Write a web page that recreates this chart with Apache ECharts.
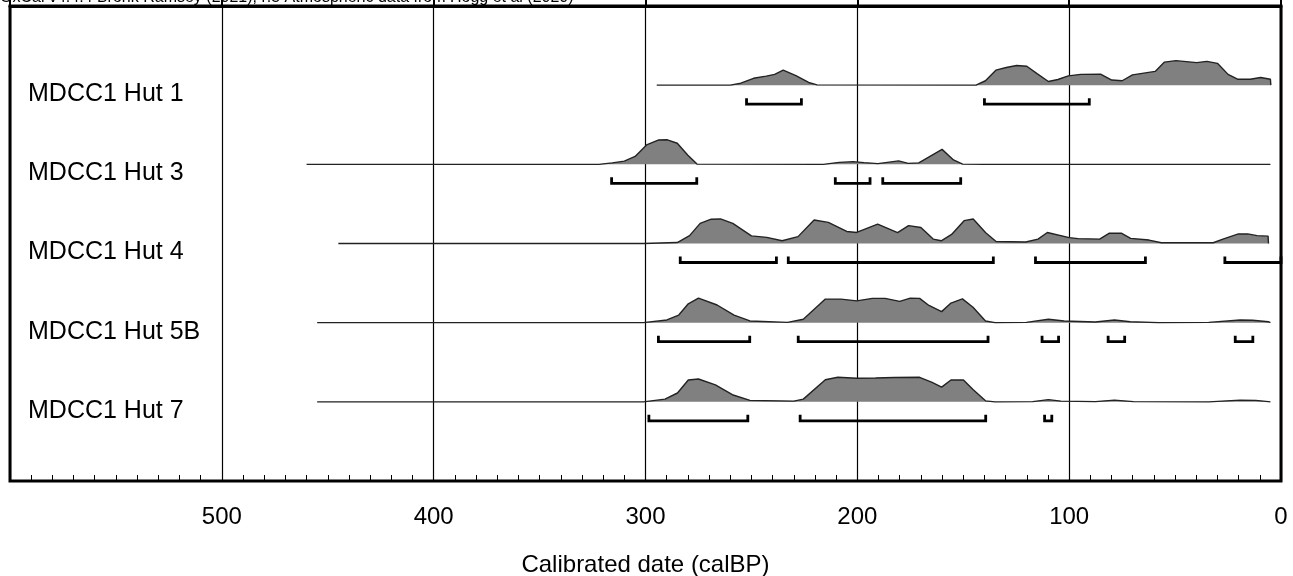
<!DOCTYPE html>
<html>
<head>
<meta charset="utf-8">
<script src="https://cdn.jsdelivr.net/npm/echarts@6/dist/echarts.min.js"></script>
<style>html,body{margin:0;padding:0;background:#fff;}#c{width:1293px;height:576px;}</style>
</head>
<body>
<div id="c"></div>
<script>
// Row labels (top to bottom)
const sampleNames = ['MDCC1 Hut 1', 'MDCC1 Hut 3', 'MDCC1 Hut 4', 'MDCC1 Hut 5B', 'MDCC1 Hut 7'];

// Probability distributions: [calBP, relative density]
const hut1 = [[294.7,0],[260,0],[255,0.08],[249,0.28],[243,0.37],[239,0.44],[235,0.61],[229,0.39],[223,0.11],[219,0.01],[144,0],[139.5,0.18],[134.6,0.61],[129.7,0.72],[124.8,0.80],[120,0.77],[115,0.46],[109.8,0.15],[105.3,0.23],[100.4,0.38],[94.5,0.44],[85.2,0.45],[79.9,0.21],[75,0.18],[70.1,0.42],[59.4,0.56],[55,0.94],[49.6,1.0],[39.8,0.92],[35,0.97],[30,0.89],[25,0.44],[20.3,0.24],[14.5,0.24],[9.6,0.31],[5,0.24],[4.8,0]];
const hut3 = [[460,0],[322,0],[315.7,0.06],[310,0.13],[304.9,0.32],[299.5,0.79],[294,0.99],[289.7,1.0],[285,0.86],[280,0.37],[275.7,0.01],[216,0],[208.6,0.08],[202,0.11],[196.8,0.07],[190.3,0.03],[180.5,0.14],[176,0.04],[171,0.06],[160,0.61],[154.6,0.18],[150.3,0.01],[140,0],[5,0]];
const hut4 = [[445,0],[301,0],[285,0.04],[279.2,0.32],[274.2,0.82],[269,0.99],[264.6,1.0],[258.8,0.82],[250,0.31],[242.8,0.25],[235.5,0.11],[228,0.28],[220.4,0.96],[213.7,0.86],[205,0.49],[200.3,0.45],[190.4,0.79],[181,0.44],[175.8,0.73],[170,0.65],[164.2,0.18],[160.4,0.11],[155.5,0.37],[149.6,0.93],[145.3,1.0],[139.4,0.44],[134.5,0.08],[120.5,0.06],[114.7,0.18],[110.3,0.45],[100,0.24],[95.8,0.2],[85.6,0.18],[81,0.42],[75.4,0.42],[71,0.21],[62.3,0.14],[56.5,0.03],[32,0.03],[27.4,0.18],[20.1,0.39],[15.7,0.39],[11.3,0.32],[6.1,0.3],[5.9,0]];
const hut5B = [[455,0],[301,0],[289.9,0.11],[284.3,0.31],[279.8,0.77],[275,1.0],[266.2,0.72],[258.2,0.31],[250.7,0.07],[232.9,0.01],[225.5,0.14],[215.1,0.96],[207.7,0.96],[200.3,0.89],[192.9,0.99],[186.9,0.99],[180,0.87],[175,1.0],[170.6,0.99],[166.2,0.7],[160.2,0.45],[155.8,0.8],[150.4,0.97],[145.4,0.63],[139.5,0.07],[135,0],[120.2,0.01],[109.8,0.14],[102.4,0.07],[87.6,0.03],[78.6,0.11],[71.2,0.04],[57.9,0],[34.1,0.01],[19.3,0.11],[13.4,0.1],[6,0.04],[5,0]];
const hut7 = [[455,0],[301,0],[290.8,0.11],[284.9,0.36],[279.8,0.89],[275,0.93],[267,0.69],[259,0.29],[250.7,0.06],[230,0.03],[225.5,0.11],[215.1,0.9],[209.2,1.0],[200.3,0.96],[191.4,0.97],[182.5,0.99],[170.6,1.0],[164.7,0.79],[160.2,0.6],[155.8,0.89],[149.9,0.89],[145.4,0.5],[139.5,0.04],[135,0],[117.2,0.01],[109.8,0.09],[103.9,0.03],[87.6,0.01],[78.6,0.07],[69.7,0.01],[34.1,0],[19.3,0.07],[11.9,0.06],[6,0.01],[5,0]];

// Highest probability density ranges: [from calBP, to calBP]
const hut1Ranges = [[252.3,226.4],[140,90.5]];
const hut3Ranges = [[316,275.8],[210.4,194],[188,151.2]];
const hut4Ranges = [[283.6,238.2],[232.6,135.8],[115.9,64],[26.5,0]];
const hut5BRanges = [[293.9,250.8],[227.9,138.3],[112.8,105],[81.6,73.8],[21.6,13.3]];
const hut7Ranges = [[298.4,251.7],[227,139.4],[111.6,108.2]];

// Axis ticks
const xTickLabels = [600, 500, 400, 300, 200, 100, 0];

const distributions = [hut1, hut3, hut4, hut5B, hut7];
const rangeSets = [hut1Ranges, hut3Ranges, hut4Ranges, hut5BRanges, hut7Ranges];

const PEAK = 0.31;      // height of a distribution peak in row units
const RANGE_OFF = 0.24; // offset of range bars below the baseline
const FONT = '"Liberation Sans", Arial, sans-serif';

const series = [];
distributions.forEach((dist, i) => {
  const base = i + 1;
  series.push({
    type: 'line',
    name: sampleNames[i],
    data: dist.map(p => [p[0], base - p[1] * PEAK]),
    symbol: 'none',
    smooth: false,
    silent: true,
    lineStyle: { color: '#222', width: 1.4 },
    areaStyle: { color: '#808080', opacity: 1, origin: base },
    z: 3
  });
});

const rangeData = [];
rangeSets.forEach((set, i) => set.forEach(r => rangeData.push([i + 1, r[0], r[1]])));

series.push({
  type: 'custom',
  silent: true,
  data: rangeData,
  encode: { x: [1, 2], y: 0 },
  renderItem: function (params, api) {
    const row = api.value(0);
    const p1 = api.coord([api.value(1), row + RANGE_OFF]);
    const p2 = api.coord([api.value(2), row + RANGE_OFF]);
    const t = 6;
    return {
      type: 'polyline',
      shape: { points: [[p1[0], p1[1] - t], [p1[0], p1[1]], [p2[0], p2[1]], [p2[0], p2[1] - t]] },
      style: { stroke: '#000', lineWidth: 2.8, fill: null, lineJoin: 'miter' }
    };
  },
  z: 4
});

// Row labels
series.push({
  type: 'custom',
  silent: true,
  data: sampleNames.map((n, i) => [600, i + 1]),
  renderItem: function (params, api) {
    const p = api.coord([api.value(0), api.value(1)]);
    return {
      type: 'text',
      x: p[0] + 18,
      y: p[1] + 9,
      style: {
        text: sampleNames[params.dataIndex],
        font: '25px ' + FONT,
        fill: '#000',
        verticalAlign: 'middle',
        align: 'left'
      }
    };
  },
  z: 5
});

const chart = echarts.init(document.getElementById('c'), null, { renderer: 'canvas' });
chart.setOption({
  animation: false,
  backgroundColor: '#fff',
  textStyle: { fontFamily: FONT },
  graphic: [{
    type: 'text',
    left: 0,
    top: -10,
    style: {
      text: 'OxCal v4.4.4 Bronk Ramsey (2021); r:5 Atmospheric data from Hogg et al (2020)',
      font: '16px ' + FONT,
      fill: '#000'
    }
  }],
  grid: {
    left: 10, right: 12, top: 6, bottom: 95,
    outerBoundsMode: 'none',
    containLabel: false,
    show: true, borderColor: '#000', borderWidth: 3, backgroundColor: 'transparent'
  },
  xAxis: [{
    type: 'value',
    min: 0, max: 600, interval: 100,
    inverse: true,
    name: 'Calibrated date (calBP)',
    nameLocation: 'middle',
    nameGap: 72,
    nameTextStyle: { fontSize: 24, color: '#000', fontFamily: FONT },
    axisLine: { lineStyle: { color: '#000', width: 3 } },
    axisTick: { inside: true, length: 11, lineStyle: { color: '#000', width: 2 } },
    splitLine: { show: true, lineStyle: { color: '#000', width: 1.2 } },
    axisLabel: {
      fontSize: 24, color: '#000', margin: 24, fontFamily: FONT,
      formatter: v => (xTickLabels.indexOf(v) >= 0 && v !== 600) ? String(v) : ''
    }
  }, {
    type: 'value',
    position: 'bottom',
    min: 0, max: 600, interval: 10,
    inverse: true,
    axisLine: { show: false },
    axisTick: { inside: true, length: 6, lineStyle: { color: '#000', width: 1 } },
    splitLine: { show: false },
    axisLabel: { show: false }
  }],
  yAxis: {
    type: 'value',
    min: 0, max: 6, interval: 1,
    inverse: true,
    axisLine: { show: false },
    axisTick: { show: false },
    splitLine: { show: false },
    axisLabel: { show: false }
  },
  series: series
});
</script>
</body>
</html>
